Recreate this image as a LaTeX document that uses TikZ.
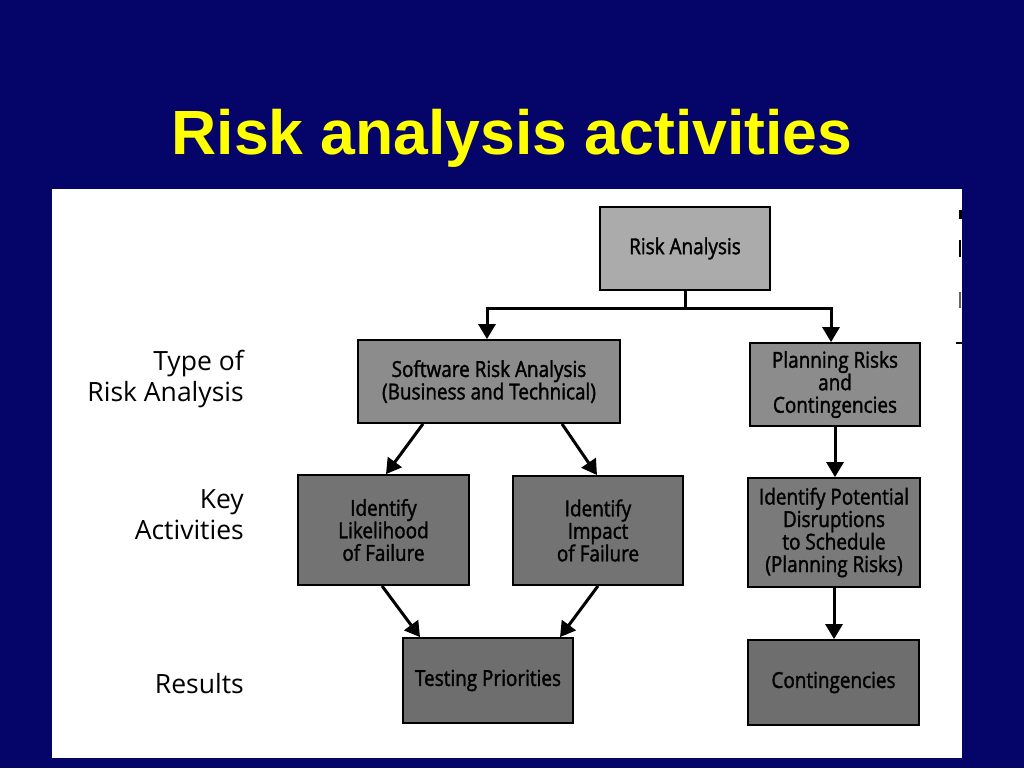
\documentclass[tikz,border=0pt]{standalone}
\usepackage{fontspec}
\usetikzlibrary{arrows.meta}
\setmainfont{Liberation Sans}
\newfontfamily\labelfont{Open Sans}
\newfontfamily\boxfont[FakeStretch=0.86,FakeBold=1.6]{Open Sans}
\definecolor{slideblue}{RGB}{5,5,105}
\definecolor{titleyellow}{RGB}{255,255,0}

\begin{document}
\begin{tikzpicture}[x=1pt,y=-1pt,
    riskbox/.style={draw=black, line width=1.8pt, fill=#1, text=black, align=center,
      inner sep=0pt, font=\boxfont\fontsize{22}{22.5}\selectfont},
    riskbox/.default=black!45,
    sidelabel/.style={align=right, inner sep=0pt, font=\labelfont\fontsize{26.5}{31}\selectfont},
    conn/.style={line width=3pt, -{Triangle[length=15pt,width=17pt]}}]

	\fill[slideblue] (0,0) rectangle (1024,768);
	\fill[white] (52,189) rectangle (962,758);%scanned page

	\node[font=\bfseries\fontsize{62.5}{62.5}\selectfont, text=titleyellow, anchor=base] (title) at (512,154) {Risk analysis activities};

	% cut off text at the page edge
	\fill[black] (959,210) rectangle (962,219);
	\fill[black] (959,240) rectangle (961,257);
	\fill[black!60] (959,292) rectangle (961,308);
	\fill[black] (956,342) rectangle (962,344);

	% row labels
	\node[sidelabel, anchor=east] (lbtype) at (244,379) {Type of\\Risk Analysis};
	\node[sidelabel, anchor=east] (lbkey) at (244,515) {Key\\Activities};
	\node[sidelabel, anchor=base east] (lbres) at (244,693) {Results};

	% boxes
	\node[riskbox=black!33, minimum width=170pt, minimum height=83pt] (ra) at (685,248.5) {Risk Analysis};
	\node[riskbox=black!45, minimum width=262pt, minimum height=83pt] (sra) at (489,381.5) {Software Risk Analysis\\(Business and Technical)};
	\node[riskbox=black!45, minimum width=170pt, minimum height=83pt] (plan) at (835,384.5) {Planning Risks\\and\\Contingencies};
	\node[riskbox=black!55, minimum width=171pt, minimum height=110pt] (like) at (383.5,530) {Identify\\Likelihood\\of Failure};
	\node[riskbox=black!55, minimum width=170pt, minimum height=109pt] (imp) at (598,530.5) {Identify\\Impact\\of Failure};
	\node[riskbox=black!52, minimum width=172pt, minimum height=109pt] (disr) at (834,532.5) {Identify Potential\\Disruptions\\to Schedule\\(Planning Risks)};
	\node[riskbox=black!57, minimum width=170pt, minimum height=85pt] (test) at (488,680.5) {Testing Priorities};
	\node[riskbox=black!57, minimum width=171pt, minimum height=85pt] (cont) at (833.5,682.5) {Contingencies};

	% connectors
	\coordinate (split) at (685,308);
	\draw[line width=3pt] (ra.south) -- (split);
	\draw[conn] (split) -| ([xshift=-2]sra.north);
	\draw[conn] (split) -| ([xshift=-4]plan.north);
	\draw[conn] ([xshift=-66]sra.south) -- ([xshift=2.5]like.north);
	\draw[conn] ([xshift=73]sra.south) -- ([xshift=-1]imp.north);
	\draw[conn] ([xshift=-1.5]like.south) -- ([xshift=-68]test.north);
	\draw[conn] (imp.south) -- ([xshift=72]test.north);
	\draw[conn] (plan.south) -- (plan.south |- disr.north);
	\draw[conn] (disr.south) -- (disr.south |- cont.north);

\end{tikzpicture}
\end{document}
